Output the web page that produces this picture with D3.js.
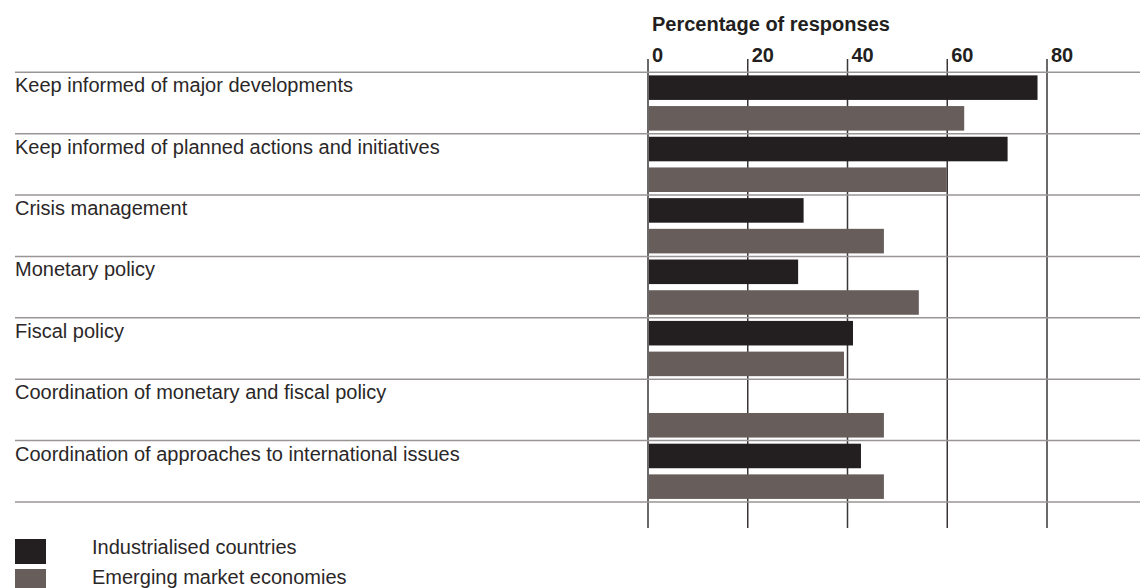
<!DOCTYPE html>
<html>
<head>
<meta charset="utf-8">
<script src="https://cdn.jsdelivr.net/npm/d3@7"></script>
<style>
  body { margin: 0; background: #fff; }
  text { font-family: "Liberation Sans", Arial, sans-serif; }
</style>
</head>
<body>
<div id="chart"></div>
<script>
// data
const categories = [
    "Keep informed of major developments",
    "Keep informed of planned actions and initiatives",
    "Crisis management",
    "Monetary policy",
    "Fiscal policy",
    "Coordination of monetary and fiscal policy",
    "Coordination of approaches to international issues"
];
const seriesNames = ["Industrialised countries", "Emerging market economies"];
const industrialised = [78.1, 72.1, 31.2, 30.1, 41.1, 0, 42.7];
const emerging = [63.4, 59.9, 47.3, 54.3, 39.3, 47.3, 47.3];
const tickValues = [0, 20, 40, 60, 80];
const colors = ["#231f20", "#675e5b"];

const chartWidth = 1140,
    chartHeight = 588,
    rowsTop = 72.3,
    rowsBottom = 502,
    gridBottom = 528;

let svg = d3.select("#chart")
    .append("svg")
    .attr("width", chartWidth)
    .attr("height", chartHeight);

let x = d3.scaleLinear()
    .domain([0, 80])
    .range([648, 1047]);

let y = d3.scaleBand()
    .domain(categories)
    .range([rowsTop, rowsBottom]);

let ySub = d3.scaleBand()
    .domain(seriesNames)
    .range([0, y.bandwidth()])
    .paddingInner(0.2)
    .paddingOuter(0.1);

// title
svg.append("text")
    .attr("x", 652)
    .attr("y", 31)
    .attr("font-size", 20)
    .attr("font-weight", "bold")
    .attr("fill", "#231f20")
    .text("Percentage of responses");

// vertical grid + tick labels
svg.append("g")
    .selectAll("line")
    .data(tickValues)
    .join("line")
        .attr("x1", d => x(d))
        .attr("x2", d => x(d))
        .attr("y1", 59)
        .attr("y2", gridBottom)
        .attr("stroke", "#3a3637")
        .attr("stroke-width", 1.5);

svg.append("g")
    .selectAll("text")
    .data(tickValues)
    .join("text")
        .attr("x", d => x(d) + 4)
        .attr("y", 62)
        .attr("font-size", 20)
        .attr("font-weight", "bold")
        .attr("fill", "#231f20")
        .text(d => d);

// row separators
let rowLines = categories.map(c => y(c)).concat([rowsBottom]);
svg.append("g")
    .selectAll("line")
    .data(rowLines)
    .join("line")
        .attr("x1", 15)
        .attr("x2", chartWidth)
        .attr("y1", d => d)
        .attr("y2", d => d)
        .attr("stroke", "#9a9595")
        .attr("stroke-width", 1.5);

// category labels
svg.append("g")
    .selectAll("text")
    .data(categories)
    .join("text")
        .attr("x", 15)
        .attr("y", d => y(d) + 20)
        .attr("font-size", 20)
        .attr("fill", "#2b2728")
        .text(d => d);

// bars
let rows = categories.map((c, i) => ({cat: c, vals: [industrialised[i], emerging[i]]}));
svg.append("g")
    .selectAll("g")
    .data(rows)
    .join("g")
        .attr("transform", d => `translate(0, ${y(d.cat)})`)
    .selectAll("rect")
    .data(d => d.vals.map((v, i) => ({series: seriesNames[i], v: v, i: i})))
    .join("rect")
        .attr("x", x(0) + 1)
        .attr("y", d => ySub(d.series))
        .attr("width", d => Math.max(0, x(d.v) - x(0) - 1))
        .attr("height", ySub.bandwidth())
        .attr("fill", d => colors[d.i]);

// legend
let legend = svg.append("g")
    .selectAll("g")
    .data(seriesNames)
    .join("g")
        .attr("transform", (d, i) => `translate(15, ${539 + i * 30})`);

legend.append("rect")
    .attr("width", 31)
    .attr("height", 25)
    .attr("fill", (d, i) => colors[i]);

legend.append("text")
    .attr("x", 77)
    .attr("y", 14.5)
    .attr("font-size", 20)
    .attr("fill", "#2b2728")
    .text(d => d);
</script>
</body>
</html>
